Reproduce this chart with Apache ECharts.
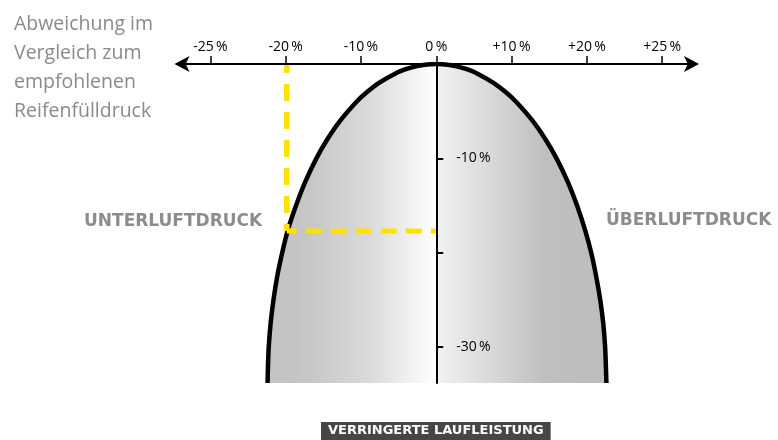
<!DOCTYPE html>
<html>
<head>
<meta charset="utf-8">
<script src="https://cdn.jsdelivr.net/npm/echarts@6/dist/echarts.min.js"></script>
<style>html,body{margin:0;padding:0;background:#fff}#c{width:778px;height:440px}</style>
</head>
<body>
<div id="c"></div>
<script>
// x positions (axis units: 1 unit = one tick step) and their labels
const xTickPositions = [-3, -2, -1, 0, 1, 2, 3];
const xTickLabels = ['-25\u2009%', '-20\u2009%', '-10\u2009%', '0\u2009%', '+10\u2009%', '+20\u2009%', '+25\u2009%'];
// y ticks (percent of mileage)
const yTickValues = [-10, -20, -30];
const yTickLabels = {'-10': '-10\u2009%', '-20': '', '-30': '-30\u2009%'};
// curve (x in tick units, y in percent)
const curveX = [-2.24, -2.235, -2.225, -2.2, -2.162, -2.112, -2.046, -1.975, -1.862, -1.74, -1.592, -1.448, -1.275, -1.058, -0.923, -0.76, -0.541, -0.384, -0.272, -0.172, 0,
                0.172, 0.272, 0.384, 0.541, 0.76, 0.925, 1.06, 1.278, 1.452, 1.597, 1.747, 1.87, 1.981, 2.058, 2.124, 2.178, 2.218, 2.243, 2.253, 2.26];
const curveY = [-33.8, -32, -30, -27.5, -25, -22.5, -20, -17.7, -15, -12.5, -10, -8, -6, -4, -3, -2, -1, -0.5, -0.25, -0.1, 0,
                -0.1, -0.25, -0.5, -1, -2, -3, -4, -6, -8, -10, -12.5, -15, -17.7, -20, -22.5, -25, -27.5, -30, -32, -33.8];
// highlighted example: -20 % pressure -> about -17.7 % mileage
const guideX = [-1.985, -1.985, 0];
const guideY = [0, -17.7, -17.7];

const FONT = 'Open Sans';
const BOLDFONT = 'DejaVu Sans';
const curveData = curveX.map((x, i) => [x, curveY[i]]);
const guideVertical = [[guideX[0], guideY[0]], [guideX[1], guideY[1]]];
const guideHorizontal = [[guideX[1], guideY[1]], [guideX[2], guideY[2]]];

const GRID_LEFT = 181, GRID_RIGHT = 86.5, X_MIN = -3.39, X_MAX = 3.39;
const gridW = 778 - GRID_LEFT - GRID_RIGHT;
const zeroOffset = (0 - X_MIN) / (X_MAX - X_MIN) * gridW;

const chart = echarts.init(document.getElementById('c'));
chart.setOption({
  animation: false,
  backgroundColor: '#fff',
  textStyle: {fontFamily: FONT},
  grid: {left: GRID_LEFT, right: GRID_RIGHT, top: 64, bottom: 57},
  xAxis: {
    type: 'value', position: 'top', min: X_MIN, max: X_MAX, z: 10,
    axisLine: {onZero: false, lineStyle: {color: '#000', width: 2}, symbol: ['arrow', 'arrow'], symbolSize: [12, 15], symbolOffset: [-6.5, 7.5]},
    axisTick: {show: true, customValues: xTickPositions, length: 8, lineStyle: {color: '#000', width: 1.5}},
    axisLabel: {customValues: xTickPositions, margin: 10, color: '#000', fontSize: 14, fontFamily: FONT,
      formatter: v => xTickLabels[xTickPositions.indexOf(Math.round(v))] || ''},
    splitLine: {show: false}
  },
  yAxis: {
    type: 'value', min: -33.8, max: 0, z: 10, position: 'left', offset: -zeroOffset,
    axisLine: {onZero: false, lineStyle: {color: '#000', width: 2}},
    axisTick: {show: true, inside: true, customValues: yTickValues, length: 7, lineStyle: {color: '#000', width: 2}},
    axisLabel: {inside: true, customValues: yTickValues, margin: 20, color: '#000', fontSize: 14, fontFamily: FONT,
      formatter: v => yTickLabels[String(Math.round(v))]},
    splitLine: {show: false}
  },
  series: [
    {
      type: 'line', data: curveData, smooth: 0.2, symbol: 'none', z: 2,
      lineStyle: {color: '#000', width: 4.5},
      areaStyle: {origin: 'start', opacity: 1, color: {type: 'linear', x: 0, y: 0, x2: 1, y2: 0, colorStops: [
        {offset: 0, color: '#c2c2c2'}, {offset: 0.12, color: '#c6c6c6'}, {offset: 0.3, color: '#dadada'},
        {offset: 0.497, color: '#ffffff'}, {offset: 0.5, color: '#f1f2f1'},
        {offset: 0.82, color: '#bebfbe'}, {offset: 1, color: '#bcbdbc'}]}}
    },
    {
      type: 'line', data: guideVertical, symbol: 'none', z: 3,
      lineStyle: {color: '#ffe100', width: 5.5, type: [17, 11], dashOffset: 8, cap: 'butt'}
    },
    {
      type: 'line', data: guideHorizontal, symbol: 'none', z: 3,
      lineStyle: {color: '#ffe100', width: 5, type: [16, 9], dashOffset: 6, cap: 'butt'}
    }
  ],
  title: [
    {text: 'Abweichung im\nVergleich zum\nempfohlenen\nReifenfülldruck', left: 9, top: 5,
      textStyle: {fontFamily: FONT, fontSize: 19.5, fontWeight: 'normal', color: '#8a8a8a', lineHeight: 29}},
    {text: 'UNTERLUFTDRUCK', left: 79, top: 208,
      textStyle: {fontFamily: BOLDFONT, fontSize: 17, fontWeight: 'bold', color: '#8c8c8c'}},
    {text: 'ÜBERLUFTDRUCK', left: 601, top: 207,
      textStyle: {fontFamily: BOLDFONT, fontSize: 17, fontWeight: 'bold', color: '#8c8c8c'}},
    {text: 'VERRINGERTE LAUFLEISTUNG', left: 321, top: 422, padding: [2, 7, 3, 7], backgroundColor: '#464646',
      textStyle: {fontFamily: BOLDFONT, fontSize: 13, fontWeight: 'bold', color: '#fff', lineHeight: 14}}
  ]
});
</script>
</body>
</html>
